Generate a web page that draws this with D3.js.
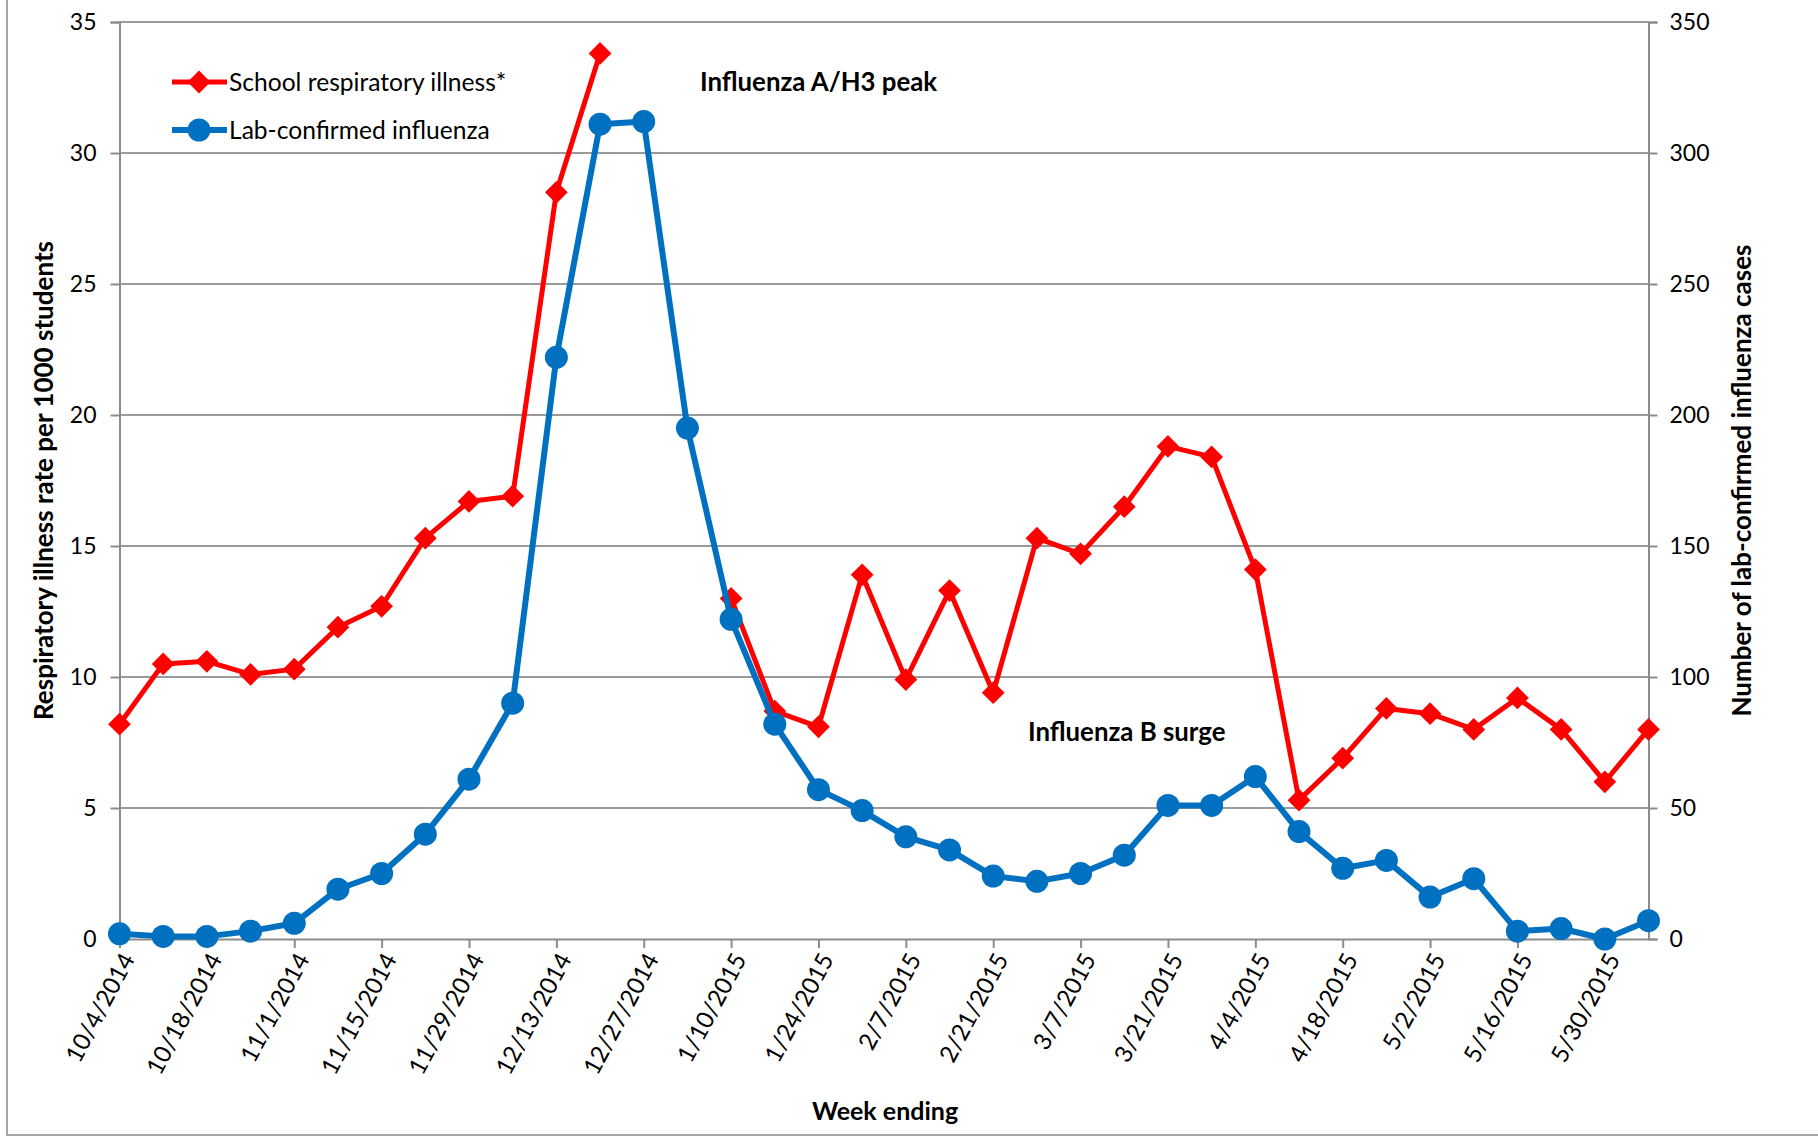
<!DOCTYPE html>
<html>
<head>
<meta charset="utf-8">
<script src="https://d3js.org/d3.v7.min.js"></script>
<style>
  body { margin: 0; background: #fff; }
  text { font-family: Lato, "Open Sans", sans-serif; fill: #000; }
  .grid line { stroke: #9a9a9a; stroke-width: 2; }
</style>
</head>
<body>
<div id="chart"></div>
<script>
var weeks = ["10/4/2014","10/11/2014","10/18/2014","10/25/2014","11/1/2014","11/8/2014","11/15/2014","11/22/2014",
  "11/29/2014","12/6/2014","12/13/2014","12/20/2014","12/27/2014","1/3/2015","1/10/2015","1/17/2015",
  "1/24/2015","1/31/2015","2/7/2015","2/14/2015","2/21/2015","2/28/2015","3/7/2015","3/14/2015",
  "3/21/2015","3/28/2015","4/4/2015","4/11/2015","4/18/2015","4/25/2015","5/2/2015","5/9/2015",
  "5/16/2015","5/23/2015","5/30/2015","6/6/2015"];

// school respiratory illness rate per 1000 students (no data over winter break)
var illnessRate = [8.2,10.5,10.6,10.1,10.3,11.9,12.7,15.3,16.7,16.9,28.5,33.8,null,null,13.0,8.7,
  8.1,13.9,9.9,13.3,9.4,15.3,14.7,16.5,18.8,18.4,14.1,5.3,6.9,8.8,8.6,8.0,9.2,8.0,6.0,8.0];

// lab-confirmed influenza cases
var labCases = [2,1,1,3,6,19,25,40,61,90,222,311,312,195,122,82,57,49,39,34,24,22,25,32,51,51,62,41,27,30,16,23,3,4,0,7];

var leftTicks = [0,5,10,15,20,25,30,35];
var rightTicks = [0,50,100,150,200,250,300,350];

var W = 1818, H = 1139;
var margin = {left: 119.5, top: 22, right: 1818 - 1648.5, bottom: 1139 - 939};
var width = W - margin.left - margin.right,
    height = H - margin.top - margin.bottom;

var svg = d3.select("#chart").append("svg")
    .attr("width", W)
    .attr("height", H);

svg.append("rect")
    .attr("x", 7).attr("y", -5)
    .attr("width", W + 10).attr("height", H + 5 - 4)
    .attr("fill", "#fff")
    .attr("stroke", "#a6a6a6")
    .attr("stroke-width", 2);

var g = svg.append("g")
    .attr("transform", "translate(" + margin.left + "," + margin.top + ")");

var x = d3.scalePoint().domain(weeks).range([0, width]);
var yL = d3.scaleLinear().domain([0, 35]).range([height, 0]);
var yR = d3.scaleLinear().domain([0, 350]).range([height, 0]);

// gridlines
g.append("g")
    .attr("class", "grid")
    .selectAll("line")
    .data(leftTicks.slice(1))
  .enter().append("line")
    .attr("x1", 0).attr("x2", width)
    .attr("y1", function(d) { return yL(d); })
    .attr("y2", function(d) { return yL(d); });

var axisColor = "#8c8c8c";

// left axis
var gl = g.append("g")
    .call(d3.axisLeft(yL).tickValues(leftTicks).tickSize(9).tickPadding(14));
gl.select(".domain").attr("stroke", axisColor).attr("stroke-width", 2);
gl.selectAll(".tick line").attr("stroke", axisColor).attr("stroke-width", 2);
gl.selectAll(".tick text").style("font-size", "23px").attr("fill", "#000");

// right axis
var gr = g.append("g")
    .attr("transform", "translate(" + width + ",0)")
    .call(d3.axisRight(yR).tickValues(rightTicks).tickSize(9).tickPadding(12));
gr.select(".domain").attr("stroke", axisColor).attr("stroke-width", 2);
gr.selectAll(".tick line").attr("stroke", axisColor).attr("stroke-width", 2);
gr.selectAll(".tick text").style("font-size", "23px").attr("fill", "#000");

// bottom axis
var labelWeeks = weeks.filter(function(d, i) { return i % 2 === 0 && i < weeks.length - 1; });
var gb = g.append("g")
    .attr("transform", "translate(0," + height + ")")
    .call(d3.axisBottom(x).tickValues(labelWeeks).tickSize(9).tickSizeOuter(0));
gb.select(".domain").attr("stroke", axisColor).attr("stroke-width", 2);
gb.selectAll(".tick line").attr("stroke", axisColor).attr("stroke-width", 2);
gb.selectAll(".tick text")
    .style("font-size", "24px")
    .attr("fill", "#000")
    .attr("text-anchor", "end")
    .attr("dy", "0.35em")
    .attr("y", 0)
    .attr("transform", "translate(8,16) rotate(-62)");

// lines
var lineL = d3.line()
    .defined(function(d) { return d != null; })
    .x(function(d, i) { return x(weeks[i]); })
    .y(function(d) { return yL(d); });
var lineR = d3.line()
    .x(function(d, i) { return x(weeks[i]); })
    .y(function(d) { return yR(d); });

var red = "#ff0000", blue = "#0070c0";
var diamond = d3.symbol().type(d3.symbolDiamond2).size(330);

g.append("path")
    .datum(illnessRate)
    .attr("fill", "none")
    .attr("stroke", red)
    .attr("stroke-width", 5)
    .attr("stroke-linejoin", "round")
    .attr("d", lineL);

g.selectAll(".redpt")
    .data(illnessRate.map(function(v, i) { return {w: weeks[i], v: v}; }).filter(function(d) { return d.v != null; }))
  .enter().append("path")
    .attr("class", "redpt")
    .attr("d", diamond)
    .attr("fill", red)
    .attr("transform", function(d) { return "translate(" + x(d.w) + "," + yL(d.v) + ")"; });

g.append("path")
    .datum(labCases)
    .attr("fill", "none")
    .attr("stroke", blue)
    .attr("stroke-width", 6)
    .attr("stroke-linejoin", "round")
    .attr("d", lineR);

g.selectAll(".bluept")
    .data(labCases)
  .enter().append("circle")
    .attr("cx", function(d, i) { return x(weeks[i]); })
    .attr("cy", function(d) { return yR(d); })
    .attr("r", 11.5)
    .attr("fill", blue);

// legend
var legend = [
  {name: "School respiratory illness*", color: red, type: "diamond", y: 82},
  {name: "Lab-confirmed influenza", color: blue, type: "circle", y: 130}
];
var lg = svg.append("g");
legend.forEach(function(d) {
  lg.append("line")
    .attr("x1", 172).attr("x2", 227)
    .attr("y1", d.y).attr("y2", d.y)
    .attr("stroke", d.color).attr("stroke-width", d.type === "circle" ? 6 : 5);
  if (d.type === "diamond") {
    lg.append("path").attr("d", diamond).attr("fill", d.color)
      .attr("transform", "translate(199," + d.y + ")");
  } else {
    lg.append("circle").attr("cx", 199).attr("cy", d.y).attr("r", 11.5).attr("fill", d.color);
  }
  lg.append("text")
    .attr("x", 229).attr("y", d.y)
    .attr("dy", "0.35em")
    .style("font-size", "24.6px")
    .text(d.name);
});

// annotations
svg.append("text")
    .attr("x", 700).attr("y", 82)
    .attr("dy", "0.35em")
    .style("font-size", "25.8px").style("font-weight", "bold")
    .text("Influenza A/H3 peak");
svg.append("text")
    .attr("x", 1028).attr("y", 732)
    .attr("dy", "0.35em")
    .style("font-size", "25.8px").style("font-weight", "bold")
    .text("Influenza B surge");

// axis titles
svg.append("text")
    .attr("transform", "translate(44," + (margin.top + height / 2) + ") rotate(-90)")
    .attr("text-anchor", "middle")
    .attr("dy", "0.35em")
    .style("font-size", "26px").style("font-weight", "bold")
    .text("Respiratory illness rate per 1000 students");
svg.append("text")
    .attr("transform", "translate(1742," + (margin.top + height / 2) + ") rotate(-90)")
    .attr("text-anchor", "middle")
    .attr("dy", "0.35em")
    .style("font-size", "26px").style("font-weight", "bold")
    .text("Number of lab-confirmed influenza cases");
svg.append("text")
    .attr("x", 885).attr("y", 1111)
    .attr("text-anchor", "middle")
    .attr("dy", "0.35em")
    .style("font-size", "25px").style("font-weight", "bold")
    .text("Week ending");
</script>
</body>
</html>
